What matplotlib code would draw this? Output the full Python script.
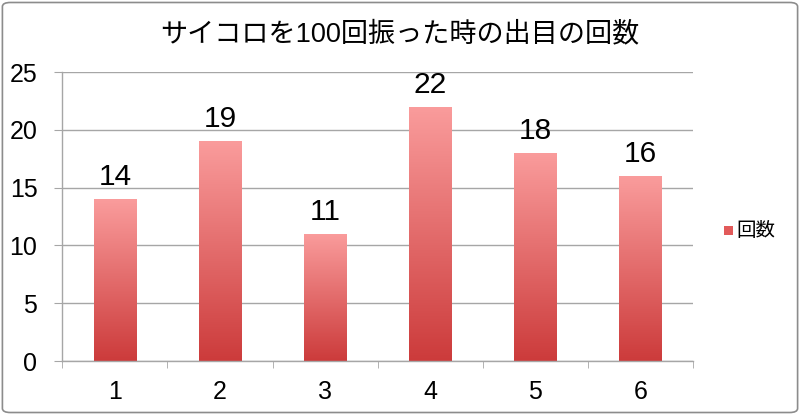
import numpy as np
import matplotlib
matplotlib.use('Agg')
import matplotlib.pyplot as plt
from matplotlib.colors import LinearSegmentedColormap
from matplotlib.patches import FancyBboxPatch

plt.rcParams['font.family'] = ['Liberation Sans', 'Noto Sans CJK JP']

# data
faces = ['1', '2', '3', '4', '5', '6']
counts = [14, 19, 11, 22, 18, 16]
title = 'サイコロを100回振った時の出目の回数'
series_name = '回数'

GRID = '#a6a6a6'
cmap = LinearSegmentedColormap.from_list('bar', ['#cc3b3b', '#fa9c9c'])

fig = plt.figure(figsize=(8, 4.15), dpi=100)
ax = fig.add_axes([0.078, 0.13, 0.788, 0.6965])

x = np.arange(len(faces))
bars = ax.bar(x, counts, width=0.4, color='none', edgecolor='none', zorder=2)

# vertical gradient in each bar
grad = np.linspace(0, 1, 256).reshape(-1, 1)
for b in bars:
    x0, y0 = b.get_x(), b.get_y()
    w, h = b.get_width(), b.get_height()
    im = ax.imshow(grad, cmap=cmap, origin='lower', aspect='auto',
                   extent=[x0, x0 + w, y0, y0 + h], zorder=2)
    im.set_clip_path(b)

for xi, c in zip(x, counts):
    ax.text(xi, c + 1.2, str(c), ha='center', va='baseline', fontsize=21.5)

ax.set_xlim(-0.5, len(faces) - 0.5)
ax.set_ylim(0, 25)
ax.set_yticks(np.arange(0, 26, 5))
ax.set_xticks(x)
ax.set_xticklabels(faces, fontsize=18)
ax.tick_params(axis='y', labelsize=18, length=6, color=GRID, pad=12)
ax.tick_params(axis='x', length=0, pad=14)
ax.set_xticks(np.arange(-0.5, len(faces)), minor=True)
ax.tick_params(axis='x', which='minor', length=5, color=GRID)

ax.grid(axis='y', color=GRID, linewidth=1, zorder=0)
ax.set_axisbelow(True)
for s in ['top', 'right']:
    ax.spines[s].set_visible(False)
for s in ['left', 'bottom']:
    ax.spines[s].set_color(GRID)
    ax.spines[s].set_linewidth(1)

fig.text(0.5, 0.918, title, ha='center', va='center', fontsize=19.5)

# legend
fig.patches.append(FancyBboxPatch((0.905, 0.433), 0.011, 0.022, boxstyle='square,pad=0',
                                  transform=fig.transFigure, facecolor='#e25a5a',
                                  edgecolor='none'))
fig.text(0.921, 0.444, series_name, ha='left', va='center', fontsize=14)

# rounded frame
fig.patches.append(FancyBboxPatch((0.003, 0.006), 0.994, 0.988,
                                  boxstyle='round,pad=0,rounding_size=0.01',
                                  transform=fig.transFigure, facecolor='none',
                                  edgecolor='#8c8c8c', linewidth=1.2))

fig.savefig('out.png', dpi=100)
